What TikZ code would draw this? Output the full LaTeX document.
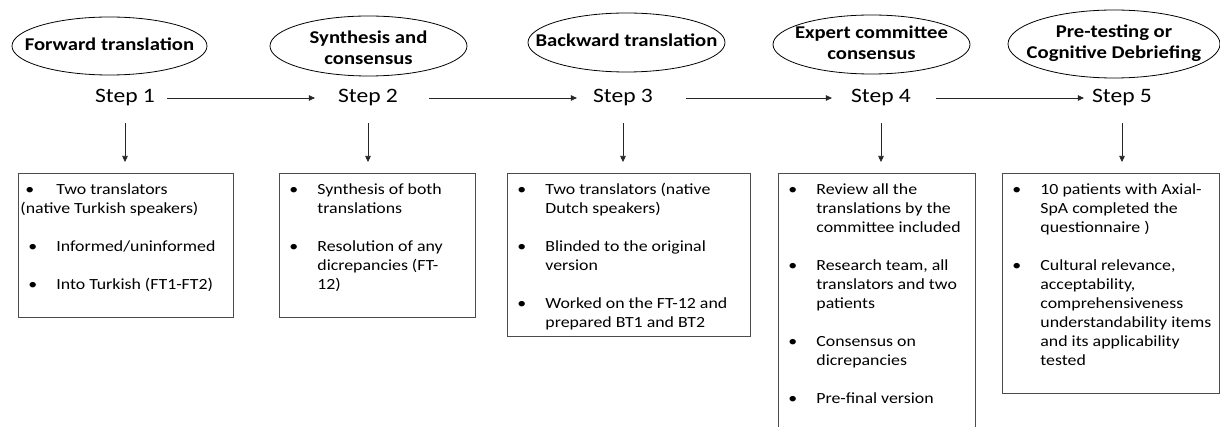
\documentclass[tikz,border=0pt]{standalone}
\usepackage{fontspec}
\setmainfont{Carlito}[FakeStretch=1.15]
\usetikzlibrary{arrows.meta, shapes.geometric}

% bullet point with hanging indent
\newcommand{\bpt}[1]{\par\hangindent=36pt\hangafter=1\noindent\makebox[36pt][l]{\hspace{8pt}\strut\textbullet}#1\par}
\newcommand{\itemgap}{\vspace{19pt}}
% text that does not widen the ellipse
\newcommand{\ctext}[2][-4.5pt]{\makebox[0pt]{\smash{\raisebox{#1}{\begin{tabular}{@{}c@{}}#2\end{tabular}}}}}

\begin{document}
\begin{tikzpicture}[x=1pt, y=-1pt,
  stage/.style={ellipse, draw, line width=0.8pt, inner sep=0pt, font=\fontsize{18}{21}\selectfont\bfseries},
  steplbl/.style={anchor=base, inner sep=0pt, font=\fontsize{20.5}{24}\selectfont},
  infobox/.style={draw=black!70, line width=0.8pt, anchor=north west, inner sep=2pt, font=\fontsize{15.5}{19}\selectfont},
  arr/.style={-{Triangle[length=6pt,width=5.5pt]}, line width=0.6pt, black!85}]
  \useasboundingbox[fill=white] (0,0) rectangle (1220,427);

  % stage names
  \node[stage, minimum width=195pt, minimum height=58pt] (e1) at (109.5,46) {\ctext{Forward translation}};
  \node[stage, minimum width=197pt, minimum height=60pt] (e2) at (368.5,46) {\ctext[-8pt]{Synthesis and\\consensus}};
  \node[stage, minimum width=197pt, minimum height=59pt] (e3) at (626.5,42.5) {\ctext{Backward translation}};
  \node[stage, minimum width=197pt, minimum height=59pt] (e4) at (871.5,44.5) {\ctext{Expert committee\\consensus}};
  \node[stage, minimum width=212pt, minimum height=68pt] (e5) at (1114,44) {\ctext{Pre-testing or\\Cognitive Debriefing}};

  % steps
  \node[steplbl] (s1) at (125,103) {Step 1};
  \node[steplbl] (s2) at (368,103) {Step 2};
  \node[steplbl] (s3) at (623,103) {Step 3};
  \node[steplbl] (s4) at (881,103) {Step 4};
  \node[steplbl] (s5) at (1122,103) {Step 5};

  \draw[arr, shorten <=12pt, shorten >=23pt] (s1.east) -- (s2.west);
  \draw[arr, shorten <=31pt, shorten >=16pt] (s2.east) -- (s3.west);
  \draw[arr, shorten <=33pt, shorten >=19pt] (s3.east) -- (s4.west);
  \draw[arr, shorten <=25pt, shorten >=8pt] (s4.east) -- (s5.west);

  % detail boxes
  \node[infobox] (b1) at (18,173) {\parbox[t][140pt][t]{211pt}{\vspace*{6pt}%
    \noindent\makebox[36pt][l]{\hspace{5pt}\strut\textbullet}Two translators\\(native Turkish speakers)\par\itemgap
    \bpt{Informed/uninformed}\itemgap
    \bpt{Into Turkish (FT1-FT2)}}};
  \node[infobox] (b2) at (279,173) {\parbox[t][140pt][t]{192pt}{\vspace*{6pt}%
    \bpt{Synthesis of both\\translations}\itemgap
    \bpt{Resolution of any\\dicrepancies (FT-\\12)}}};
  \node[infobox] (b3) at (507,173) {\parbox[t][159pt][t]{239pt}{\vspace*{6pt}%
    \bpt{Two translators (native\\Dutch speakers)}\itemgap
    \bpt{Blinded to the original\\version}\itemgap
    \bpt{Worked on the FT-12 and\\prepared BT1 and BT2}}};
  \node[infobox] (b4) at (778,173) {\parbox[t][253pt][t]{193pt}{\vspace*{6pt}%
    \bpt{Review all the\\translations by the\\committee included}\itemgap
    \bpt{Research team, all\\translators and two\\patients}\itemgap
    \bpt{Consensus on\\dicrepancies}\itemgap
    \bpt{Pre-final version}}};
  \node[infobox] (b5) at (1002,173) {\parbox[t][216pt][t]{213pt}{\vspace*{6pt}%
    \bpt{10 patients with Axial-\\SpA completed the\\questionnaire )}\itemgap
    \bpt{Cultural relevance,\\acceptability,\\comprehensiveness\\understandability items\\and its applicability\\tested}}};

  % down arrows
  \draw[arr, shorten <=17pt, shorten >=11pt] (s1.south) -- (s1.south |- b1.north);
  \draw[arr, shorten <=17pt, shorten >=11pt] (s2.south) -- (s2.south |- b2.north);
  \draw[arr, shorten <=17pt, shorten >=11pt] (s3.south) -- (s3.south |- b3.north);
  \draw[arr, shorten <=17pt, shorten >=11pt] (s4.south) -- (s4.south |- b4.north);
  \draw[arr, shorten <=17pt, shorten >=11pt] (s5.south) -- (s5.south |- b5.north);
\end{tikzpicture}
\end{document}
